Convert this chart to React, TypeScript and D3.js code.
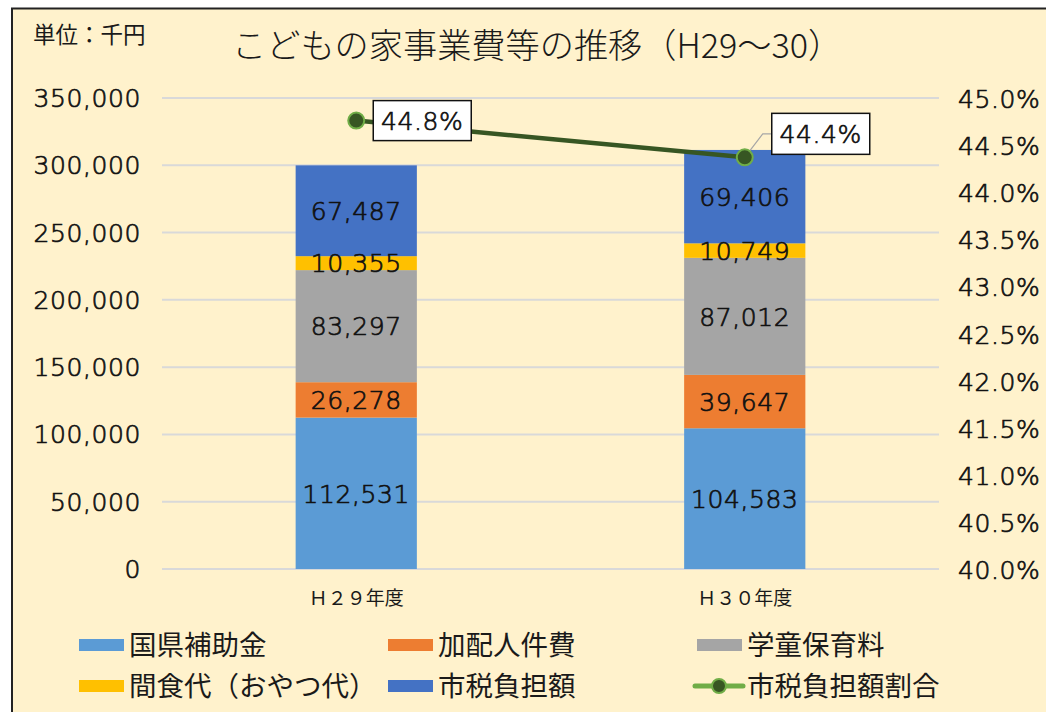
import React from "react";
import * as d3 from "d3";

const categories = ["Ｈ２９年度", "Ｈ３０年度"];
const seriesNames = ["国県補助金", "加配人件費", "学童保育料", "間食代（おやつ代）", "市税負担額"];
const seriesColors = ["#5B9BD5", "#ED7D31", "#A5A5A5", "#FFC000", "#4472C4"];
const kokken = [112531, 104583];
const kahai = [26278, 39647];
const gakudo = [83297, 87012];
const kanshoku = [10355, 10749];
const shizei = [67487, 69406];
const ratio = [0.4476, 0.4437];
const ratioLabels = ["44.8%", "44.4%"];
const lineName = "市税負担額割合";
const leftTicks = [0, 50000, 100000, 150000, 200000, 250000, 300000, 350000];
const rightTicks = [0.4, 0.405, 0.41, 0.415, 0.42, 0.425, 0.43, 0.435, 0.44, 0.445, 0.45];

const W = 1046;
const H = 712;
const FONT_NUM = "'DejaVu Sans', sans-serif";
const FONT_JP = "'Noto Sans CJK JP', sans-serif";
const TXT = "#1a1a1a";
const numStyle = {
  fontFamily: FONT_NUM,
  fontWeight: 200,
  fontSize: 25,
  letterSpacing: 0.6,
  stroke: "#111",
  strokeWidth: 0.7,
  fill: "#111",
};

export default function App() {
  const plotL = 162, plotR = 939, plotT = 98, plotB = 569;
  const x = d3.scaleBand<string>().domain(categories).range([plotL, plotR]).paddingInner(0.688).paddingOuter(0.344);
  const y = d3.scaleLinear().domain([0, 350000]).range([plotB, plotT]);
  const y2 = d3.scaleLinear().domain([0.4, 0.45]).range([plotB, plotT]);
  const fmt = d3.format(",");
  const pfmt = d3.format(".1%");

  const seriesData = [kokken, kahai, gakudo, kanshoku, shizei];
  const rows = categories.map((c, i) => {
    const r: any = { cat: c };
    seriesNames.forEach((s, k) => (r[s] = seriesData[k][i]));
    return r;
  });
  const stack = d3.stack<any>().keys(seriesNames)(rows);
  const bw = x.bandwidth();
  const cx = (c: string) => (x(c) as number) + bw / 2;

  const linePts: [number, number][] = categories.map((c, i) => [cx(c), y2(ratio[i])]);
  const linePath = d3.line()(linePts) as string;

  const labelBoxes = [
    { dx: 17, dy: -20, w: 98, h: 40, leader: false },
    { dx: 27, dy: -44, w: 98, h: 41, leader: true },
  ];

  const legendCols = [79, 388, 697];
  const legendRows = [645, 686];
  const legendItems = [
    { name: seriesNames[0], color: seriesColors[0], type: "bar" },
    { name: seriesNames[1], color: seriesColors[1], type: "bar" },
    { name: seriesNames[2], color: seriesColors[2], type: "bar" },
    { name: seriesNames[3], color: seriesColors[3], type: "bar" },
    { name: seriesNames[4], color: seriesColors[4], type: "bar" },
    { name: lineName, color: "#375623", type: "line" },
  ];

  return (
    <svg width={W} height={H} style={{ position: "absolute", left: 0, top: 0, background: "#fff" }}>
      <rect x={12} y={8.5} width={W + 20} height={H + 20} fill="#FFF2CC" stroke="#222" strokeWidth={2} />

      <text x={33} y={43} fontFamily={FONT_JP} fontSize={22.5} fill={TXT}>単位：千円</text>
      <text x={232} y={58} textAnchor="start" fontFamily={FONT_JP} fontSize={34.2} fontWeight={300} fill={TXT}>
        こどもの家事業費等の推移（H29～30）
      </text>

      {leftTicks.map((t) => (
        <g key={t}>
          <line x1={plotL} x2={plotR} y1={y(t)} y2={y(t)} stroke="#D9D9D9" strokeWidth={2} />
          <text x={141} y={y(t)} dy="0.36em" textAnchor="end" {...numStyle}>
            {fmt(t)}
          </text>
        </g>
      ))}

      {rightTicks.map((t) => (
        <text key={t} x={958} y={y2(t)} dy="0.4em" textAnchor="start" {...numStyle}>
          {pfmt(t)}
        </text>
      ))}

      {stack.map((layer, k) => (
        <g key={layer.key}>
          {layer.map((d, i) => (
            <rect key={i} x={x(categories[i])} y={y(d[1])} width={bw} height={y(d[0]) - y(d[1])} fill={seriesColors[k]} />
          ))}
        </g>
      ))}
      {stack.map((layer) => (
        <g key={layer.key + "l"}>
          {layer.map((d, i) => (
            <text key={i} x={cx(categories[i])} y={(y(d[0]) + y(d[1])) / 2} dy="0.37em" textAnchor="middle" {...numStyle}>
              {fmt(d[1] - d[0])}
            </text>
          ))}
        </g>
      ))}

      {categories.map((c) => (
        <text key={c} x={cx(c)} y={598} dy="0.36em" textAnchor="middle" fontFamily={FONT_JP} fontSize={19} fill={TXT}>
          {c}
        </text>
      ))}

      <path d={linePath} fill="none" stroke="#375623" strokeWidth={4.5} />
      {linePts.map(([px, py], i) => {
        const b = labelBoxes[i];
        const bx = px + b.dx, by = py + b.dy;
        return (
          <g key={i}>
            {b.leader && (
              <polyline points={`${px},${py} ${bx - 9},${by + b.h / 2} ${bx},${by + b.h / 2}`} fill="none" stroke="#A6A6A6" strokeWidth={1.2} />
            )}
            <circle cx={px} cy={py} r={8} fill="#375623" stroke="#70AD47" strokeWidth={2} />
            <rect x={bx} y={by} width={b.w} height={b.h} fill="#fff" stroke="#111" strokeWidth={1.5} />
            <text x={bx + b.w / 2} y={by + b.h / 2} dy="0.37em" textAnchor="middle" {...numStyle}>
              {ratioLabels[i]}
            </text>
          </g>
        );
      })}

      {legendItems.map((it, idx) => {
        const lx = legendCols[idx % 3];
        const ly = legendRows[Math.floor(idx / 3)];
        return (
          <g key={it.name}>
            {it.type === "bar" ? (
              <rect x={lx} y={ly - 6} width={45} height={12} fill={it.color} />
            ) : (
              <g>
                <line x1={lx - 2} x2={lx + 46} y1={ly} y2={ly} stroke="#70AD47" strokeWidth={5} strokeLinecap="round" />
                <circle cx={lx + 22} cy={ly} r={7} fill="#375623" stroke="#70AD47" strokeWidth={2} />
              </g>
            )}
            <text x={lx + 50} y={ly} dy="0.36em" fontFamily={FONT_JP} fontSize={27.5} fill={TXT}>
              {it.name}
            </text>
          </g>
        );
      })}
    </svg>
  );
}
